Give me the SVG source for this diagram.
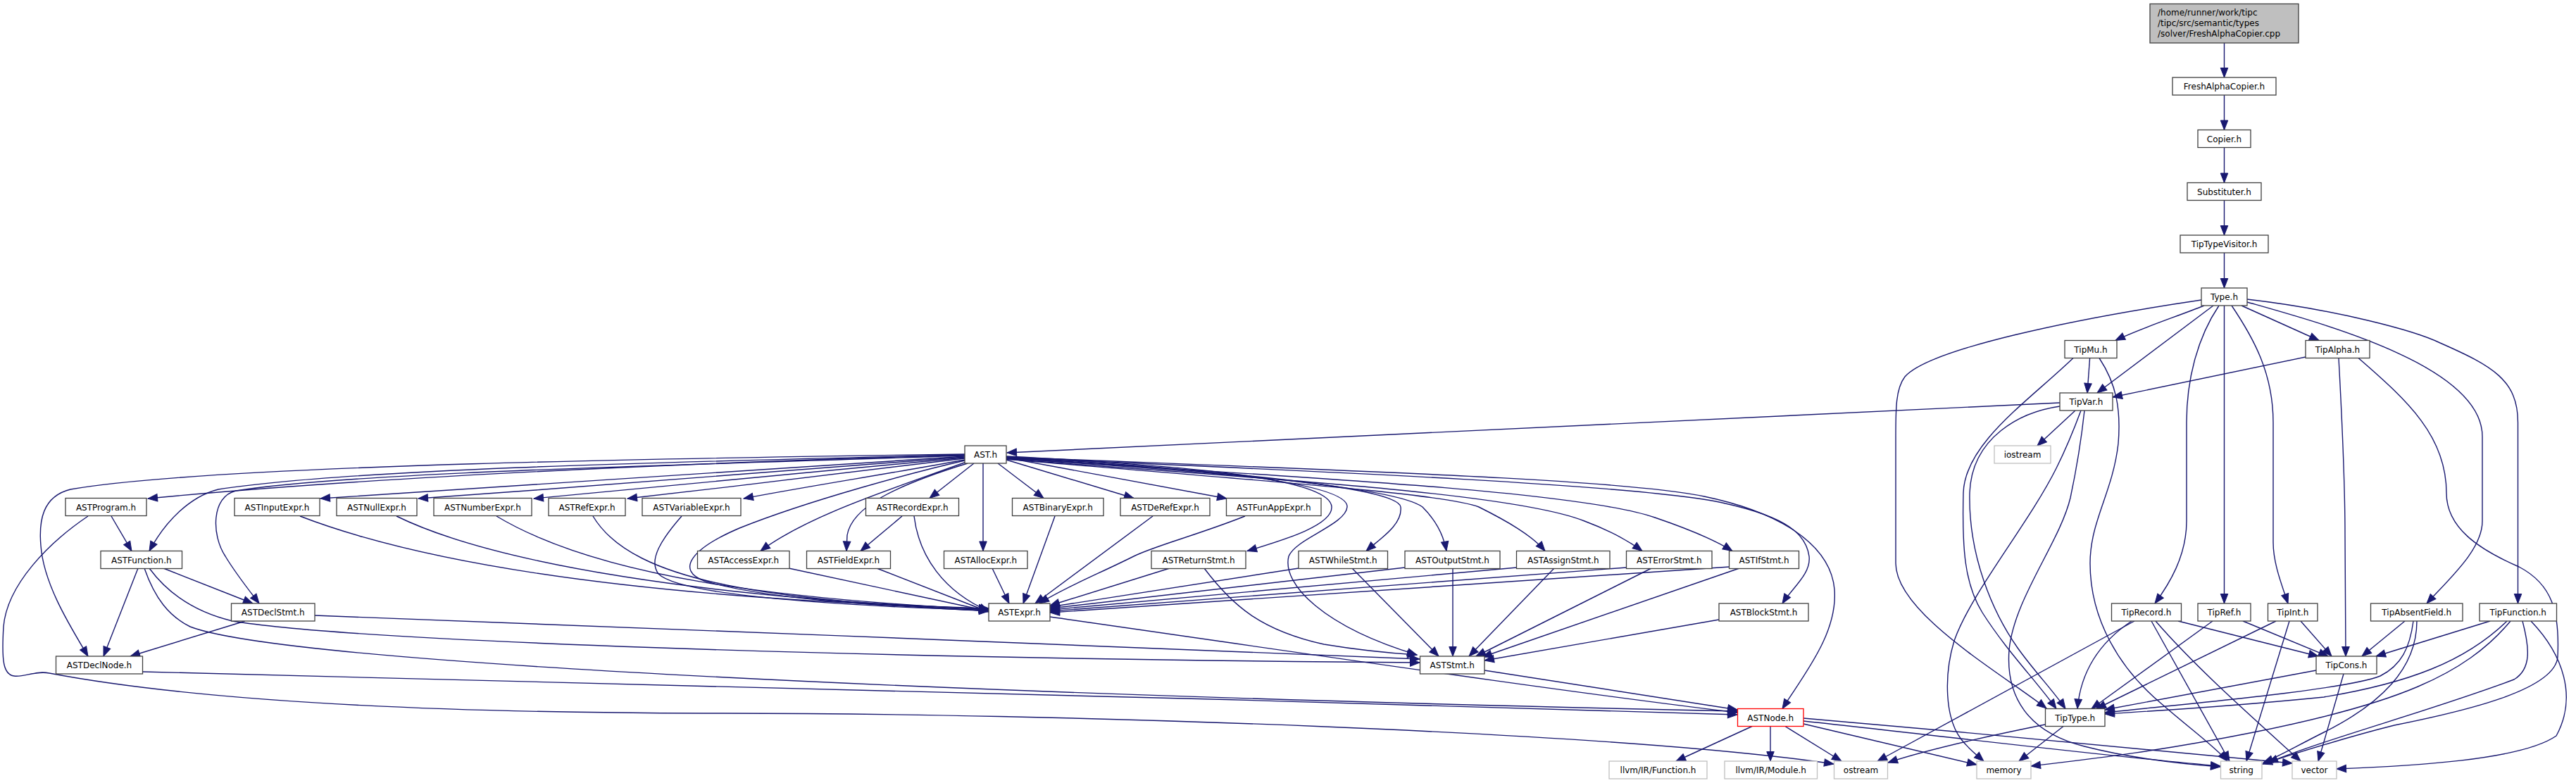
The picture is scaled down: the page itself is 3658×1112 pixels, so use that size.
<svg xmlns="http://www.w3.org/2000/svg" width="3658" height="1112" viewBox="0 0 3658 1112">
<style>
rect{fill:#fff;stroke:#404040;stroke-width:1.3}
.ext rect{stroke:#bfbfbf}
.red rect{stroke:#ff0000}
.root rect{fill:#bfbfbf}
text{font-family:"DejaVu Sans",sans-serif;font-size:12px;fill:#000;text-anchor:middle}
.root text{text-anchor:start}
#edges path{fill:none;stroke:#191970;stroke-width:1.4;marker-end:url(#arr)}
</style>
<defs>
<marker id="arr" markerWidth="17" markerHeight="14" refX="14.5" refY="6.5" orient="auto" markerUnits="userSpaceOnUse">
<path d="M1,1.25 L14.5,6.5 L1,11.75 z" fill="#191970" stroke="#191970" stroke-width="1"/>
</marker>
</defs>
<rect x="0" y="0" width="3658" height="1112" style="fill:#fff;stroke:none"/>
<g id="edges">
<path d="M3158.5,61 L3158.5,110"/>
<path d="M3158.5,135 L3158.5,184.5"/>
<path d="M3158.5,209.5 L3158.5,259.5"/>
<path d="M3158.5,284.5 L3158.5,334"/>
<path d="M3158.5,359 L3158.5,409"/>
<path d="M3130,434 C3090,450 3040,466 3004,483.5"/>
<path d="M3143,434 L2978,558"/>
<path d="M3151,434 C3120,480 3105,540 3105,600 L3105,740 C3105,790 3080,830 3060,857"/>
<path d="M3158.5,434 L3158.5,857"/>
<path d="M3169,434 C3200,480 3228,530 3228,600 L3228,770 C3228,800 3240,830 3249,857"/>
<path d="M3183,434 L3293,483.5"/>
<path d="M3191,429 C3300,460 3525,520 3525,620 L3525,740 C3525,780 3480,820 3446,857"/>
<path d="M3191,425 C3320,440 3430,470 3465,487 C3540,520 3575.5,540 3575.5,600 L3575.5,857"/>
<path d="M3126,426 C2950,452 2740,495 2705,535 C2692,552 2692,580 2692,620 L2692,800 C2692,870 2840,955 2906,1006"/>
<path d="M2967.6,508.5 L2964,558"/>
<path d="M2944,508.5 C2880,570 2790,630 2788,700 C2786,780 2790,830 2815,870 C2850,925 2890,965 2920,1006.5"/>
<path d="M2925,577 C2870,585 2800,620 2797,700 C2795,790 2830,870 2865,920 C2890,955 2915,980 2933,1006.5"/>
<path d="M2981,508.5 C3005,545 3012,580 3008,630 C3000,700 2968,740 2968,800 C2968,880 3010,950 3070,1000 C3110,1035 3145,1060 3163,1081"/>
<path d="M2925,572 L1430,643"/>
<path d="M2947,583 L2893,633"/>
<path d="M2955,583 C2945,610 2935,635 2920,665 C2880,745 2800,840 2775,910 C2760,960 2762,1020 2785,1050 C2795,1063 2808,1073 2817,1081"/>
<path d="M2960,583 C2956,620 2950,660 2940,707 C2925,770 2860,850 2853,923 C2848,990 2880,1040 2960,1060 C3030,1078 3100,1085 3153,1089"/>
<path d="M3274,507 L3000,564"/>
<path d="M3321,508.5 C3326,600 3330,700 3330,760 L3331,932"/>
<path d="M3349,508.5 C3420,570 3474,620 3474,700 C3474,750 3520,780 3577,805 C3625,830 3635,870 3632,933 C3628,980 3500,1010 3400,1030 C3320,1050 3260,1070 3213,1085"/>
<path d="M3027,882 C2985,910 2955,950 2950,1006.5"/>
<path d="M3031,882 L2666,1081"/>
<path d="M3055,882 L3166,1081"/>
<path d="M3061,882 C3120,950 3200,1020 3267,1081"/>
<path d="M3093,882 L3292,932"/>
<path d="M3142,882 L2970,1006.5"/>
<path d="M3185,882 L3306,932"/>
<path d="M3232,882 L2977,1006.5"/>
<path d="M3267,882 L3311,932"/>
<path d="M3251,882 L3190,1081"/>
<path d="M3415,882 L3354,932"/>
<path d="M3427,882 C3422,920 3410,945 3380,960 C3330,980 3100,1000 2989,1012"/>
<path d="M3432,882 C3432,950 3380,1000 3300,1040 C3260,1060 3235,1075 3214,1083"/>
<path d="M3536,882 L3374,932"/>
<path d="M3560,882 C3500,940 3420,970 3300,990 C3150,1005 3050,1010 2989,1014"/>
<path d="M3565,882 C3500,960 3400,1000 3200,1040 C3050,1070 2950,1080 2884,1088"/>
<path d="M3582,882 C3592,920 3595,950 3570,965 C3450,1010 3300,1050 3221,1083"/>
<path d="M3594,882 C3640,930 3660,990 3630,1045 C3580,1080 3420,1088 3318,1092"/>
<path d="M3289,952 L2989,1008"/>
<path d="M3328,957 L3292,1081"/>
<path d="M2488,1031.5 L2380,1081"/>
<path d="M2514,1031.5 L2514,1081"/>
<path d="M2535,1031.5 L2615,1081"/>
<path d="M2561,1028 L2807,1086"/>
<path d="M2561,1024 C2800,1050 3000,1075 3153,1088"/>
<path d="M2561,1020 C2800,1040 3100,1070 3255,1084"/>
<path d="M2930,1031.5 L2867,1081"/>
<path d="M2904,1029 C2800,1050 2720,1070 2681,1083"/>
<path d="M1370,645 C1000,650 300,660 100,695 C60,705 55,740 58,775 C62,830 100,890 125,932"/>
<path d="M1370,646 C900,660 500,680 210,708"/>
<path d="M1370,646 C1000,655 500,665 310,695 C270,705 235,740 212,782.5"/>
<path d="M1370,647 C1000,660 500,670 335,697 C300,705 300,760 320,790 C335,815 355,840 368,857"/>
<path d="M1370,648 C1000,670 700,690 455,708"/>
<path d="M1370,649 C1100,670 850,690 594,708"/>
<path d="M1370,650 C1150,672 950,690 758,708"/>
<path d="M1370,651 C1200,672 1050,690 891,708"/>
<path d="M1370,653 C1250,675 1150,690 1056,708"/>
<path d="M1370,654 C1300,670 1150,710 1050,750 C980,780 960,810 1000,825 C1100,855 1300,862 1404,868"/>
<path d="M1372,656 C1280,690 1150,730 1080,782.5"/>
<path d="M1374,658 C1270,690 1210,720 1203,760 L1202,782.5"/>
<path d="M1383,658 L1320,707.5"/>
<path d="M1396,658 L1396,782.5"/>
<path d="M1417,658 L1482,707.5"/>
<path d="M1429,653 L1610,707.5"/>
<path d="M1429,650 L1742,708"/>
<path d="M1429,648 C1700,662 1890,680 1891,720 C1892,745 1830,765 1771,782.5"/>
<path d="M1429,649 C1700,664 1915,685 1913,720 C1911,745 1840,765 1830,790 C1820,830 1880,890 2012,930"/>
<path d="M1429,650 C1700,666 1985,690 1989,720 C1992,745 1960,765 1940,782.5"/>
<path d="M1429,651 C1700,668 1980,690 2020,720 C2040,740 2050,760 2054,782.5"/>
<path d="M1429,652 C1750,680 2050,700 2100,720 C2140,740 2175,760 2194,782.5"/>
<path d="M1429,652 C1800,680 2150,700 2250,740 C2290,755 2315,770 2332,782.5"/>
<path d="M1429,651 C1900,680 2250,700 2350,735 C2400,752 2440,770 2460,782.5"/>
<path d="M1429,650 C1900,670 2350,690 2450,715 C2540,735 2565,760 2569,790 C2572,815 2545,835 2531,857"/>
<path d="M1429,649 C1900,668 2300,680 2420,705 C2540,730 2600,780 2605,837 C2610,900 2560,960 2531,1006.5"/>
<path d="M426,733 C600,800 900,850 1404,864"/>
<path d="M563,733 C700,800 1000,850 1404,865"/>
<path d="M705,733 C850,820 1100,850 1404,866"/>
<path d="M842,733 C900,830 1100,852 1404,867"/>
<path d="M968,733 C940,765 920,795 935,815 C970,850 1250,862 1404,867"/>
<path d="M1120,807 L1404,868"/>
<path d="M1245,807 L1404,869"/>
<path d="M1281,733 L1222,782.5"/>
<path d="M1298,733 C1305,790 1340,840 1404,868"/>
<path d="M1409,807 L1433,857"/>
<path d="M1498,733 L1453,857"/>
<path d="M1637,733 L1470,857"/>
<path d="M1768,733 C1700,760 1640,775 1610,790 C1560,815 1510,835 1476,857"/>
<path d="M1661,807 L1491,860"/>
<path d="M1844,807 L1491,862"/>
<path d="M1995,806 L1491,864"/>
<path d="M2154,806 L1491,866"/>
<path d="M2310,806 L1491,868"/>
<path d="M2456,805 L1491,870"/>
<path d="M1710,807 C1750,860 1790,895 1880,915 C1940,925 1980,928 2012,930"/>
<path d="M1920,807 L2043,932"/>
<path d="M2063,807 L2063,932"/>
<path d="M2207,807 L2086,932"/>
<path d="M2345,807 L2096,932"/>
<path d="M2470,807 L2105,933"/>
<path d="M2441,880 L2108,938"/>
<path d="M447,874 C900,890 1600,920 2016,936"/>
<path d="M212,807 C240,845 280,870 330,882 C500,910 1200,935 2016,941"/>
<path d="M205,807 C220,850 240,875 270,890 C400,940 1300,985 2467,1010"/>
<path d="M196,807 L147,932"/>
<path d="M232,807 L359,857"/>
<path d="M158,733 L187,782.5"/>
<path d="M125,733 C70,770 10,830 5,890 C2,940 5,958 20,960 C35,962 50,952 70,956 C250,990 550,1012 1000,1013 C1500,1012 2300,1040 2604,1085"/>
<path d="M348,882 L185,932"/>
<path d="M203,954 C800,970 1700,990 2467,1015"/>
<path d="M1491,876 C1800,920 2200,980 2467,1012"/>
<path d="M2108,952 L2467,1008"/>
</g>
<g id="n-root" class="root"><rect x="3053" y="5.5" width="211" height="55.5"/><text x="3064" y="22">/home/runner/work/tipc</text><text x="3064" y="37">/tipc/src/semantic/types</text><text x="3064" y="52">/solver/FreshAlphaCopier.cpp</text></g>
<g id="n-freshalphacopier"><rect x="3085" y="110" width="147" height="25"/><text x="3158.5" y="127">FreshAlphaCopier.h</text></g>
<g id="n-copier"><rect x="3121" y="184.5" width="75" height="25"/><text x="3158.5" y="201.5">Copier.h</text></g>
<g id="n-substituter"><rect x="3106" y="259.5" width="105" height="25"/><text x="3158.5" y="276.5">Substituter.h</text></g>
<g id="n-tiptypevisitor"><rect x="3096" y="334" width="125" height="25"/><text x="3158.5" y="351">TipTypeVisitor.h</text></g>
<g id="n-type"><rect x="3126" y="409" width="65" height="25"/><text x="3158.5" y="426">Type.h</text></g>
<g id="n-tipmu"><rect x="2932" y="483.5" width="74" height="25"/><text x="2969" y="500.5">TipMu.h</text></g>
<g id="n-tipalpha"><rect x="3274" y="483.5" width="91" height="25"/><text x="3319.5" y="500.5">TipAlpha.h</text></g>
<g id="n-tipvar"><rect x="2925" y="558" width="75" height="25"/><text x="2962.5" y="575">TipVar.h</text></g>
<g id="n-ast"><rect x="1370" y="633" width="59" height="25"/><text x="1399.5" y="650">AST.h</text></g>
<g id="n-iostream" class="ext"><rect x="2832" y="633" width="80" height="25"/><text x="2872" y="650">iostream</text></g>
<g id="n-astprogram"><rect x="93" y="707.5" width="115" height="25"/><text x="150.5" y="724.5">ASTProgram.h</text></g>
<g id="n-astinputexpr"><rect x="333" y="707.5" width="121" height="25"/><text x="393.5" y="724.5">ASTInputExpr.h</text></g>
<g id="n-astnullexpr"><rect x="478" y="707.5" width="114" height="25"/><text x="535" y="724.5">ASTNullExpr.h</text></g>
<g id="n-astnumberexpr"><rect x="616" y="707.5" width="139" height="25"/><text x="685.5" y="724.5">ASTNumberExpr.h</text></g>
<g id="n-astrefexpr"><rect x="779" y="707.5" width="109" height="25"/><text x="833.5" y="724.5">ASTRefExpr.h</text></g>
<g id="n-astvariableexpr"><rect x="912" y="707.5" width="140" height="25"/><text x="982" y="724.5">ASTVariableExpr.h</text></g>
<g id="n-astrecordexpr"><rect x="1229.5" y="707.5" width="132" height="25"/><text x="1295.5" y="724.5">ASTRecordExpr.h</text></g>
<g id="n-astbinaryexpr"><rect x="1437.5" y="707.5" width="129.5" height="25"/><text x="1502.25" y="724.5">ASTBinaryExpr.h</text></g>
<g id="n-astderefexpr"><rect x="1591" y="707.5" width="127" height="25"/><text x="1654.5" y="724.5">ASTDeRefExpr.h</text></g>
<g id="n-astfunappexpr"><rect x="1741.5" y="707.5" width="134.5" height="25"/><text x="1808.75" y="724.5">ASTFunAppExpr.h</text></g>
<g id="n-astfunction"><rect x="143" y="782.5" width="115.5" height="25"/><text x="200.75" y="799.5">ASTFunction.h</text></g>
<g id="n-astaccessexpr"><rect x="990.5" y="782.5" width="130.5" height="25"/><text x="1055.75" y="799.5">ASTAccessExpr.h</text></g>
<g id="n-astfieldexpr"><rect x="1145.5" y="782.5" width="119" height="25"/><text x="1205" y="799.5">ASTFieldExpr.h</text></g>
<g id="n-astallocexpr"><rect x="1340.5" y="782.5" width="118.5" height="25"/><text x="1399.75" y="799.5">ASTAllocExpr.h</text></g>
<g id="n-astreturnstmt"><rect x="1635" y="782.5" width="134" height="25"/><text x="1702" y="799.5">ASTReturnStmt.h</text></g>
<g id="n-astwhilestmt"><rect x="1844" y="782.5" width="126.5" height="25"/><text x="1907.25" y="799.5">ASTWhileStmt.h</text></g>
<g id="n-astoutputstmt"><rect x="1995" y="782.5" width="135" height="25"/><text x="2062.5" y="799.5">ASTOutputStmt.h</text></g>
<g id="n-astassignstmt"><rect x="2153.5" y="782.5" width="132.5" height="25"/><text x="2219.75" y="799.5">ASTAssignStmt.h</text></g>
<g id="n-asterrorstmt"><rect x="2309.5" y="782.5" width="121.5" height="25"/><text x="2370.25" y="799.5">ASTErrorStmt.h</text></g>
<g id="n-astifstmt"><rect x="2455.5" y="782.5" width="99" height="25"/><text x="2505" y="799.5">ASTIfStmt.h</text></g>
<g id="n-astdeclstmt"><rect x="328.5" y="857" width="118.5" height="25"/><text x="387.75" y="874">ASTDeclStmt.h</text></g>
<g id="n-astexpr"><rect x="1404" y="857" width="87" height="25"/><text x="1447.5" y="874">ASTExpr.h</text></g>
<g id="n-astblockstmt"><rect x="2441" y="857" width="127" height="25"/><text x="2504.5" y="874">ASTBlockStmt.h</text></g>
<g id="n-tiprecord"><rect x="2998.5" y="857" width="99" height="25"/><text x="3048" y="874">TipRecord.h</text></g>
<g id="n-tipref"><rect x="3121" y="857" width="75" height="25"/><text x="3158.5" y="874">TipRef.h</text></g>
<g id="n-tipint"><rect x="3220.5" y="857" width="70.5" height="25"/><text x="3255.75" y="874">TipInt.h</text></g>
<g id="n-tipabsentfield"><rect x="3366.5" y="857" width="130.5" height="25"/><text x="3431.75" y="874">TipAbsentField.h</text></g>
<g id="n-tipfunction"><rect x="3521" y="857" width="109.5" height="25"/><text x="3575.75" y="874">TipFunction.h</text></g>
<g id="n-astdeclnode"><rect x="79.5" y="932" width="123" height="25"/><text x="141" y="949">ASTDeclNode.h</text></g>
<g id="n-aststmt"><rect x="2016.5" y="932" width="91.5" height="25"/><text x="2062.25" y="949">ASTStmt.h</text></g>
<g id="n-tipcons"><rect x="3289" y="932" width="86" height="25"/><text x="3332" y="949">TipCons.h</text></g>
<g id="n-astnode" class="red"><rect x="2467.5" y="1006.5" width="93.5" height="25"/><text x="2514.25" y="1023.5">ASTNode.h</text></g>
<g id="n-tiptype"><rect x="2904.5" y="1006.5" width="84.5" height="25"/><text x="2946.75" y="1023.5">TipType.h</text></g>
<g id="n-llvmfunction" class="ext"><rect x="2285" y="1081" width="139" height="25"/><text x="2354.5" y="1098">llvm/IR/Function.h</text></g>
<g id="n-llvmmodule" class="ext"><rect x="2449" y="1081" width="131.5" height="25"/><text x="2514.75" y="1098">llvm/IR/Module.h</text></g>
<g id="n-ostream" class="ext"><rect x="2604.5" y="1081" width="76" height="25"/><text x="2642.5" y="1098">ostream</text></g>
<g id="n-memory" class="ext"><rect x="2807" y="1081" width="77" height="25"/><text x="2845.5" y="1098">memory</text></g>
<g id="n-string" class="ext"><rect x="3153.5" y="1081" width="58.5" height="25"/><text x="3182.75" y="1098">string</text></g>
<g id="n-vector" class="ext"><rect x="3255" y="1081" width="63" height="25"/><text x="3286.5" y="1098">vector</text></g>
</svg>
